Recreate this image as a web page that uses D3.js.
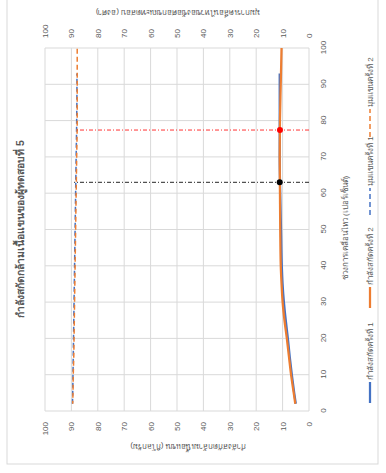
<!DOCTYPE html>
<html><head><meta charset="utf-8">
<script src="https://cdn.jsdelivr.net/npm/d3@7"></script>
<style>
html,body{margin:0;padding:0;background:#fff;}
svg text{font-family:"Liberation Sans","Noto Sans",sans-serif;fill:#595959;}
</style></head>
<body>
<script>
// ---- data ----
const chartTitle = "กำลังสกัดกล้ามเนื้อแขนของผู้ทดสอบที่ 5";
const xTitle = "ช่วงการเคลื่อนไหว (เปอร์เซ็นต์)";
const yLeftTitle = "กำลังสกัดกล้ามเนื้อแขน (กิโลกรัม)";
const yRightTitle = "มุมการเคลื่อนไหวของข้อศอกขณะทดสอบ (องศา)";
const seriesNames = ["กำลังสกัดครั้งที่ 1","กำลังสกัดครั้งที่ 2","มุมแขนครั้งที่ 1","มุมแขนครั้งที่ 2"];
const xTicks = [0,10,20,30,40,50,60,70,80,90,100];
const yTicks = [0,10,20,30,40,50,60,70,80,90,100];
const x1 = [2,5,10,15,20,25,30,35,40,50,60,70,80,90,93];
const x2 = [2,5,10,15,20,25,30,35,40,50,60,70,80,90,100];
const force1 = [5.0,5.6,6.5,7.3,8.0,8.8,9.5,10.0,10.3,10.6,10.9,11.1,11.1,11.1,11.1];
const force2 = [5.2,5.8,6.8,7.6,8.4,9.3,10.0,10.4,10.7,10.9,11.0,11.1,11.0,10.7,10.4];
const angle1 = [89.6,89.5,89.4,89.3,89.2,89.1,89.0,88.9,88.8,88.6,88.4,88.2,88.0,87.9,87.9];
const angle2 = [89.5,89.4,89.3,89.1,89.0,88.9,88.8,88.7,88.6,88.4,88.2,88.0,87.8,87.8,87.8];
// reference markers: [x %, force, angle]
const markBlack = [63, 11.1, 89.0];
const markRed = [77.4, 11.0, 87.7];

// ---- layout (unrotated chart, then turned -90deg) ----
const W = 473, H = 386;
const svg = d3.select("body").append("svg").attr("width",386).attr("height",473);
const g = svg.append("g").attr("transform","translate(0,473) rotate(-90)");

g.append("rect").attr("x",9).attr("y",7).attr("width",480).attr("height",371)
 .attr("fill","#fff").attr("stroke","#d9d9d9").attr("stroke-width",1);

const x = d3.scaleLinear().domain([0,100]).range([62,425]);
const yL = d3.scaleLinear().domain([0,100]).range([309,45]);
const yR = d3.scaleLinear().domain([0,100]).range([309,45]);

// gridlines
g.append("g").selectAll("line").data(xTicks).join("line")
 .attr("x1",d=>x(d)).attr("x2",d=>x(d)).attr("y1",yL(0)).attr("y2",yL(100))
 .attr("stroke","#d9d9d9").attr("stroke-width",1);
g.append("g").selectAll("line").data(yTicks).join("line")
 .attr("y1",d=>yL(d)).attr("y2",d=>yL(d)).attr("x1",x(0)).attr("x2",x(100))
 .attr("stroke","#d9d9d9").attr("stroke-width",1);

// axes (labels only)
const fs = 8;
const axB = g.append("g").attr("transform",`translate(0,${yL(0)})`)
 .call(d3.axisBottom(x).tickValues(xTicks).tickSize(0).tickPadding(11));
const axL = g.append("g").attr("transform",`translate(${x(0)},0)`)
 .call(d3.axisLeft(yL).tickValues(yTicks).tickSize(0).tickPadding(11));
const axR = g.append("g").attr("transform",`translate(${x(100)},0)`)
 .call(d3.axisRight(yR).tickValues(yTicks).tickSize(0).tickPadding(10));
[axB,axL,axR].forEach(a=>{a.select(".domain").remove();
 a.selectAll("text").attr("font-size",fs).attr("fill","#595959")
  .style("font-family",'"Liberation Sans",sans-serif');});

// lines
const lineF = (xs)=>d3.line().x((d,i)=>x(xs[i])).y(d=>yL(d)).curve(d3.curveMonotoneX);
const lineA = (xs)=>d3.line().x((d,i)=>x(xs[i])).y(d=>yR(d)).curve(d3.curveMonotoneX);
const blue = "#4472c4", orange = "#ed7d31";
g.append("path").attr("d",lineF(x1)(force1)).attr("fill","none").attr("stroke",blue).attr("stroke-width",2.25);
g.append("path").attr("d",lineF(x2)(force2)).attr("fill","none").attr("stroke",orange).attr("stroke-width",2.25);
g.append("path").attr("d",lineA(x1)(angle1)).attr("fill","none").attr("stroke",blue).attr("stroke-width",1.5).attr("stroke-dasharray","5,3");
g.append("path").attr("d",lineA(x2)(angle2)).attr("fill","none").attr("stroke",orange).attr("stroke-width",1.5).attr("stroke-dasharray","5,3").attr("stroke-dashoffset",2);

// reference drop lines and markers
[[markBlack,"#000"],[markRed,"#ff0000"]].forEach(([m,c])=>{
  g.append("line").attr("x1",x(m[0])).attr("x2",x(m[0])).attr("y1",yR(0)).attr("y2",yR(m[2]))
   .attr("stroke",c).attr("stroke-width",1).attr("stroke-dasharray","4,2,1,2").attr("opacity",c==="#000"?0.85:0.8);
  g.append("circle").attr("cx",x(m[0])).attr("cy",yL(m[1])).attr("r",3).attr("fill",c);
});

// titles
g.append("text").attr("x",244).attr("y",24).attr("text-anchor","middle")
 .attr("font-size",10.5).attr("font-weight","bold").attr("fill","#404040").text(chartTitle);
g.append("text").attr("x",245).attr("y",348).attr("text-anchor","middle")
 .attr("font-size",8).text(xTitle);
g.append("text").attr("transform","translate(29,188) rotate(-90)").attr("text-anchor","middle")
 .attr("font-size",8).text(yLeftTitle);
g.append("text").attr("transform","translate(463,178) rotate(-90)").attr("text-anchor","middle")
 .attr("font-size",8).text(yRightTitle);

// legend
const legX = [70,165,258,336];
const legLen = [21,21,27,28];
const legStyles = [[blue,null,2.25],[orange,null,2.25],[blue,"5,3",1.5],[orange,"5,3",1.5]];
seriesNames.forEach((n,i)=>{
  const lg = g.append("g");
  lg.append("line").attr("x1",legX[i]).attr("x2",legX[i]+legLen[i]).attr("y1",370).attr("y2",370)
   .attr("stroke",legStyles[i][0]).attr("stroke-width",legStyles[i][2]).attr("stroke-dasharray",legStyles[i][1]);
  lg.append("text").attr("x",legX[i]+legLen[i]+2).attr("y",373).attr("font-size",8).text(n);
});
</script>
</body></html>
